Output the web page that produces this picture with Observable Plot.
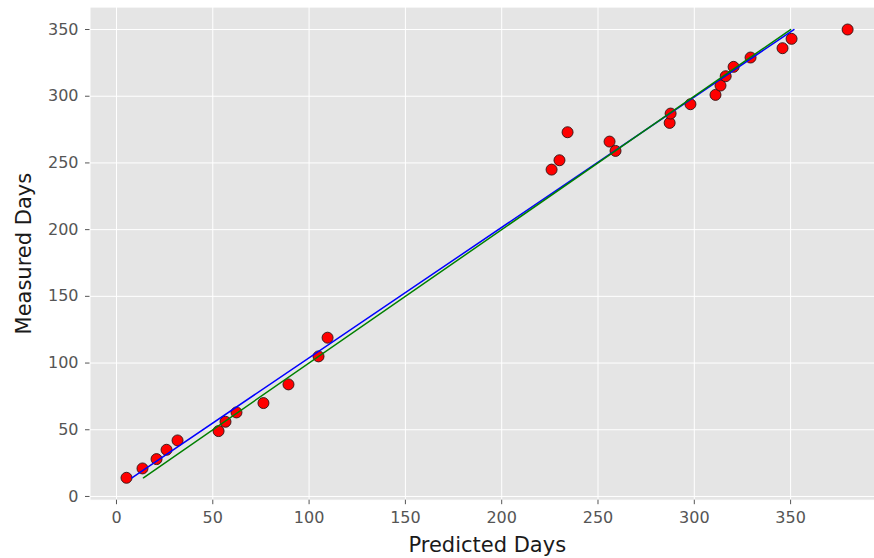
<!DOCTYPE html>
<html>
<head>
<meta charset="utf-8">
<script src="https://cdn.jsdelivr.net/npm/d3@7"></script>
<script src="https://cdn.jsdelivr.net/npm/@observablehq/plot@0.6"></script>
<style>
  html, body { margin: 0; padding: 0; background: #fff; overflow: hidden; }
  #chart svg { max-width: none; }
</style>
</head>
<body>
<div id="chart"></div>
<script>
// Predicted vs measured durations (days)
const predicted = [5.2, 13.5, 20.8, 26, 31.7, 53, 56.6, 62.3, 76.3, 89.3, 104.9, 109.6,
  225.9, 230, 234.2, 256, 259.1, 287.2, 287.7, 298, 311, 313.6, 316.3, 320.4, 329.2,
  345.8, 350.5, 379.6];
const measured = [14, 21, 28, 35, 42, 49, 56, 63, 70, 84, 105, 119,
  245, 252, 273, 266, 259, 280, 287, 294, 301, 308, 315, 322, 329,
  336, 343, 350];

// Fitted line (blue) and the one-to-one reference line (green)
const fitX = [8, 351.7];
const fitY = [14, 350];
const refX = [14, 350];
const refY = [14, 350];

const xTicks = [0, 50, 100, 150, 200, 250, 300, 350];
const yTicks = [0, 50, 100, 150, 200, 250, 300, 350];

const points = predicted.map((x, i) => ({x, y: measured[i]}));
const fitLine = fitX.map((x, i) => ({x, y: fitY[i]}));
const refLine = refX.map((x, i) => ({x, y: refY[i]}));

const tickColor = "#555555";

const chart = Plot.plot({
  width: 884,
  height: 558,
  marginLeft: 89.5,
  marginRight: 0,
  marginTop: 6.6,
  marginBottom: 58.3,
  style: {
    fontFamily: "DejaVu Sans",
    fontSize: "16px",
    background: "white",
    maxWidth: "none"
  },
  x: {domain: [-13.75, 398.75]},
  y: {domain: [-2.8, 366.8]},
  marks: [
    Plot.frame({fill: "#e5e5e5", stroke: "white", strokeWidth: 1}),
    Plot.gridX(xTicks, {stroke: "white", strokeOpacity: 1, strokeWidth: 1}),
    Plot.gridY(yTicks, {stroke: "white", strokeOpacity: 1, strokeWidth: 1}),
    Plot.axisX(xTicks, {
      tickSize: 4.5, tickPadding: 7, stroke: tickColor, fill: tickColor,
      label: null, fontSize: 16
    }),
    Plot.axisY(yTicks, {
      tickSize: 4.5, tickPadding: 7, stroke: tickColor, fill: tickColor,
      label: null, fontSize: 16
    }),
    Plot.dot(points, {x: "x", y: "y", r: 5.5, fill: "#ff0000", stroke: "#2e1414", strokeWidth: 0.9}),
    Plot.line(fitLine, {x: "x", y: "y", stroke: "#0000ff", strokeWidth: 1.5}),
    Plot.line(refLine, {x: "x", y: "y", stroke: "#008000", strokeWidth: 1.5}),
    Plot.text(["Predicted Days"], {
      frameAnchor: "bottom", lineAnchor: "middle", textAnchor: "middle",
      dy: 45, text: d => d, fontSize: 21, fill: "#1a1a1a"
    }),
    Plot.text(["Measured Days"], {
      frameAnchor: "left", lineAnchor: "middle", textAnchor: "middle",
      dx: -66, rotate: -90, text: d => d, fontSize: 21, fill: "#1a1a1a"
    })
  ]
});

document.getElementById("chart").appendChild(chart);
</script>
</body>
</html>
